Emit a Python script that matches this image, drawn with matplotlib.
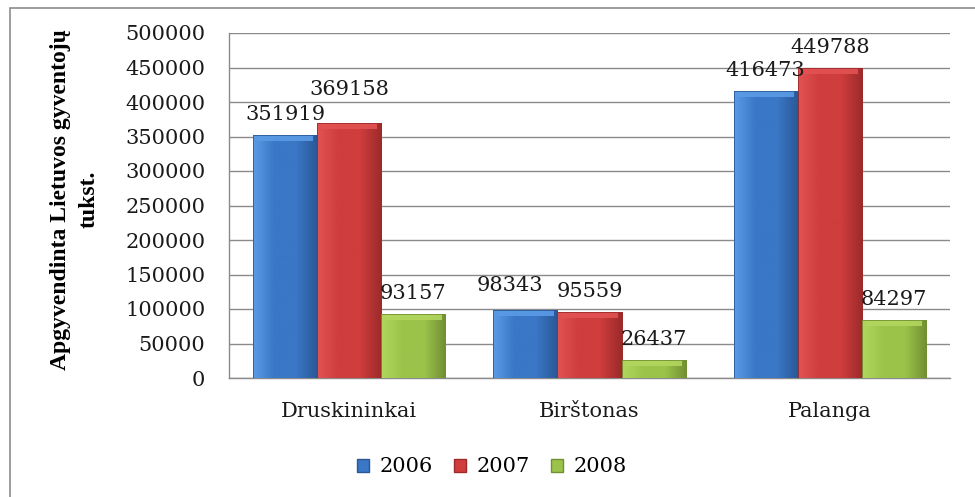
import matplotlib
matplotlib.use("Agg")
import matplotlib.pyplot as plt
import numpy as np
from matplotlib.patches import Patch, Rectangle
from matplotlib.colors import LinearSegmentedColormap

# dane
miasta = ["Druskininkai", "Birštonas", "Palanga"]
lata = ["2006", "2007", "2008"]
v2006 = [351919, 98343, 416473]
v2007 = [369158, 95559, 449788]
v2008 = [93157, 26437, 84297]
y_ticks = list(range(0, 500001, 50000))
y_label = "Apgyvendinta Lietuvos gyventojų\ntukst."

serii = [v2006, v2007, v2008]
kolory = [("#5b9be6", "#3a77c6", "#2a5896"),
          ("#e25252", "#cf3d3d", "#9c2a2a"),
          ("#b2d65e", "#9bc34a", "#728f33")]
# przesuniecia etykiet (px) tam gdzie Excel je przesunal
przesuniecia = {(0, 1): (0, 13), (1, 0): (-15, 4)}

FONT = "DejaVu Serif"
FS = 15

fig = plt.figure(figsize=(9.75, 4.97), dpi=100)
ax = fig.add_axes([229 / 975, 119 / 497, 721 / 975, 345 / 497])

# ramka zewnetrzna
fig.patches.append(Rectangle((10 / 975, -0.2), 1.2, 0.984 + 0.2, transform=fig.transFigure,
                             fill=False, edgecolor="#8c8c8c", linewidth=1.2))

x = np.arange(len(miasta))
szer = 0.267
ax.set_xlim(-0.5, 2.5)
ax.set_ylim(0, 500000)

for i, (wart, (jasny, sr, ciemny)) in enumerate(zip(serii, kolory)):
    pozycje = x + (i - 1) * szer
    slupki = ax.bar(pozycje, wart, width=szer, color=sr, edgecolor=ciemny, linewidth=0.6, zorder=3)
    cmap = LinearSegmentedColormap.from_list("g", [jasny, sr, sr, ciemny])
    grad = np.linspace(0, 1, 64).reshape(1, -1)
    for s in slupki:
        x0, w, h = s.get_x(), s.get_width(), s.get_height()
        im = ax.imshow(grad, cmap=cmap, aspect="auto", extent=(x0, x0 + w, 0, h), zorder=3.5)
        im.set_clip_path(s)
        # jasna fazka u gory
        fazka = min(h, 9000)
        ax.add_patch(Rectangle((x0 + w * 0.06, h - fazka), w * 0.88, fazka, facecolor=jasny,
                               edgecolor="none", alpha=0.9, zorder=4))
        ax.add_patch(Rectangle((x0, 0), w, h, fill=False, edgecolor=ciemny, linewidth=0.6, zorder=4.5))
    for j, (px, v) in enumerate(zip(pozycje, wart)):
        dx, dy = przesuniecia.get((j, i), (0, 0))
        ax.annotate(str(v), (px, v), xytext=(dx * 0.72, (15 + dy) * 0.72), textcoords="offset points",
                    ha="center", va="baseline", fontsize=FS, family=FONT, color="#1a1a1a", zorder=6)

ax.set_xticks(x)
ax.set_xticklabels(miasta)
ax.set_yticks(y_ticks)
ax.set_yticklabels([str(t) for t in y_ticks])
ax.tick_params(axis="both", length=0, labelsize=FS, colors="#1a1a1a")
ax.tick_params(axis="y", pad=17)
ax.tick_params(axis="x", pad=17)
for lab in ax.get_xticklabels() + ax.get_yticklabels():
    lab.set_family(FONT)

ax.grid(axis="y", color="#8a8a8a", linewidth=1.0, zorder=0)
ax.set_axisbelow(True)
for side in ["top", "right"]:
    ax.spines[side].set_visible(False)
for side in ["left", "bottom"]:
    ax.spines[side].set_color("#8a8a8a")
    ax.spines[side].set_linewidth(1.0)

fig.text(75 / 975, 0.598, y_label, rotation=90, ha="center", va="center", multialignment="center",
         fontsize=17, fontweight="bold", family="Liberation Serif", linespacing=1.45)

uchwyty = [Patch(facecolor=k[1], edgecolor=k[2], label=r) for k, r in zip(kolory, lata)]
fig.legend(handles=uchwyty, loc="center", bbox_to_anchor=(492 / 975, 30 / 497), ncol=3, frameon=False,
           prop={"family": FONT, "size": FS}, handlelength=0.6, handleheight=0.6, handletextpad=0.5,
           columnspacing=1.0)

fig.savefig("out.png", dpi=100)
